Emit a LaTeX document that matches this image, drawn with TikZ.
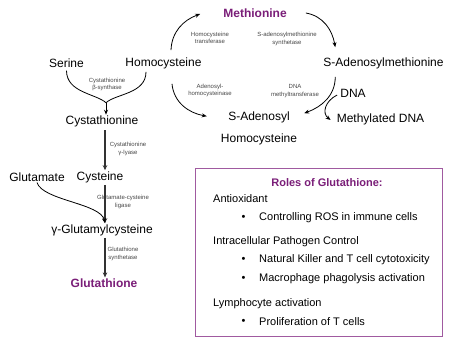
\documentclass[tikz,border=0pt]{standalone}
\usepackage{fontspec}
\setmainfont{Liberation Sans}
\usetikzlibrary{arrows.meta,calc}
\definecolor{gpurple}{RGB}{122,30,120}
\definecolor{boxpurple}{RGB}{160,90,160}
\definecolor{lblgray}{RGB}{70,70,70}
\definecolor{arrgray}{RGB}{50,50,50}
\begin{document}
\begin{tikzpicture}[x=1pt,y=1pt,
  mol/.style={inner sep=1pt,font=\fontsize{12}{14}\selectfont},
  keymol/.style={inner sep=1pt,font=\fontsize{12}{14}\selectfont\bfseries,text=gpurple},
  enz/.style={inner sep=0pt,align=center,text=lblgray,font=\fontsize{6}{7.5}\selectfont},
  boxtxt/.style={inner sep=0pt,anchor=west,font=\fontsize{11}{13}\selectfont},
  curv/.style={line width=0.8pt,-{Stealth[length=5pt,width=4pt]}},
  curvplain/.style={line width=0.8pt},
  vert/.style={line width=1.3pt,draw=arrgray,-{Stealth[length=5pt,width=4.5pt]}}]
\useasboundingbox (0,0) rectangle (454,-337);

% molecules
\node[keymol] (meth) at (255,-13) {Methionine};
\node[mol] (serine) at (66.5,-63) {Serine};
\node[mol] (homo) at (163.5,-63) {Homocysteine};
\node[mol] (sam) at (383.5,-63) {S-Adenosylmethionine};
\node[mol] (cysta) at (102,-121.5) {Cystathionine};
\node[mol,align=center,font=\fontsize{12}{22}\selectfont] (sah) at (259,-128) {S-Adenosyl\\Homocysteine};
\node[mol] (dna) at (353,-93) {DNA};
\node[mol] (mdna) at (380.5,-119) {Methylated DNA};
\node[mol] (glu) at (37,-177) {Glutamate};
\node[mol] (cys) at (100,-177) {Cysteine};
\node[mol] (gglu) at (102,-230) {γ-Glutamylcysteine};
\node[keymol] (gsh) at (104,-283) {Glutathione};

% enzyme labels
\node[enz] (e1) at (107,-84.5) {Cystathionine\\β-synthase};
\node[enz] (e2) at (128,-149) {Cystathionine\\γ-lyase};
\node[enz] (e3) at (123,-202) {Glutamate-cysteine\\ligase};
\node[enz] (e4) at (123,-254) {Glutathione\\synthetase};
\node[enz] (e5) at (210,-38) {Homocysteine\\transferase};
\node[enz] (e6) at (287,-39) {S-adenosylmethionine\\synthetase};
\node[enz] (e7) at (210,-90.5) {Adenosyl-\\homocysteinase};
\node[enz] (e8) at (295,-91) {DNA\\methyltransferase};

% serine + homocysteine -> cystathionine
\coordinate (merge) at ($(cysta.north)+(4,12)$);
\coordinate (mergeend) at ($(cysta.north)+(4,0)$);
\draw[curvplain] ([yshift=-2pt]serine.south) .. controls +(0,-22) and +(-10,9) .. (merge);
\draw[curvplain] ($(homo.south)+(-17.5,-2)$) .. controls +(0,-22) and +(10,9) .. (merge);
\draw[curv] (merge) -- (mergeend);

% vertical chain
\coordinate (v1s) at ($(cysta.south)+(3,-2)$);
\coordinate (v1e) at (v1s |- cys.north);
\coordinate (v2s) at ($(cys.south)+(5,-1)$);
\coordinate (v2e) at (v2s |- gglu.north);
\coordinate (v3s) at ($(gglu.south)+(3,-1)$);
\coordinate (v3e) at (v3s |- gsh.north);
\draw[vert] (v1s) -- (v1e);
\draw[vert] (v2s) -- (v2e);
\draw[vert] (v3s) -- (v3e);

% glutamate joins
\draw[curv] (glu.south) .. controls +(6,-18) and +(-4,20) .. (v2e);

% methionine cycle
\draw[curv] ($(homo.north)+(7.5,6)$) to[out=88,in=200] ($(meth.west)+(-22,-1)$);
\draw[curv] ($(meth.east)+(18,0)$) to[out=-10,in=100] ($(sam.north west)+(13,9)$);
\draw[curv] ($(sam.south west)+(13,-7)$) to[out=-90,in=20] ($(sah.north east)+(6,-3)$);
\draw[curv] ($(dna.west)+(-2,-2)$) .. controls +(-12,-6) and +(-9,7) .. ($(mdna.west)+(-5,-1)$);
\draw[curv] ($(homo.south)+(8.5,-14)$) to[out=-85,in=170] ($(sah.north west)+(-13,-6)$);

% roles box
\node[draw=boxpurple,line width=1.3pt,minimum width=247pt,minimum height=168.5pt,anchor=north west,inner sep=0pt] (box) at (195,-167.5) {};
\node[inner sep=0pt,font=\fontsize{11}{13}\selectfont\bfseries,text=gpurple] (title) at (327,-183) {Roles of Glutathione:};
\node[boxtxt] (h1) at (213,-199) {Antioxidant};
\node[boxtxt] (b1) at (241.5,-218) {•};
\node[boxtxt] (t1) at (259,-218) {Controlling ROS in immune cells};
\node[boxtxt] (h2) at (213,-242) {Intracellular Pathogen Control};
\node[boxtxt] (b2) at (241.5,-260) {•};
\node[boxtxt] (t2) at (259,-260) {Natural Killer and T cell cytotoxicity};
\node[boxtxt] (b3) at (241.5,-279) {•};
\node[boxtxt] (t3) at (259,-279) {Macrophage phagolysis activation};
\node[boxtxt] (h3) at (213,-304) {Lymphocyte activation};
\node[boxtxt] (b4) at (241.5,-322) {•};
\node[boxtxt] (t4) at (259,-322) {Proliferation of T cells};
\end{tikzpicture}
\end{document}
